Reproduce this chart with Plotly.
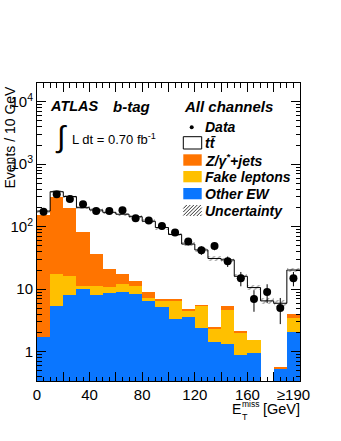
import plotly.graph_objects as go

# ---------------- data ----------------
bin_lo = list(range(0, 200, 10))          # bin lower edges (GeV)
bin_edges = list(range(0, 210, 10))
bin_ctr = [b + 5 for b in bin_lo]
data = [173, 330, 277, 229, 178, 178, 183, 136, 126, 103, 81, 58, 42, 49, 28, 15, 7, 9, 5, 15]
ttbar = [21, 65, 103, 118, 149, 149, 141, 131, 113, 90, 68, 48, 37, 28.5, 24, 14, 9.1, 6.5, 5.4, 16.3]
zjets = [155, 281, 185, 72, 25, 10.2, 5.0, 2.25, 1.97, 0.5, 0.5, 0.29, 0.06, 0.18, 0.79, 0.06, 0, 0, 0.02, 0.47]
fake = [0, 11.9, 8.3, 1.5, 3.0, 1.9, 3.4, 2.87, 0.6, 1.22, 3.13, 0.93, 3.07, 0.92, 3.32, 1.14, 0.58, 0, 0, 1.46]
other_ew = [1.70, 5.44, 8.08, 9.96, 8.17, 8.79, 8.9, 8.38, 6.55, 5.25, 3.34, 3.55, 2.37, 1.41, 1.33, 0.89, 0.94, 0, 0.535, 2.04]
unc_rel = [0.06, 0.06, 0.06, 0.06, 0.06, 0.06, 0.06, 0.06, 0.07, 0.07, 0.07, 0.08, 0.08, 0.08, 0.09, 0.10, 0.10, 0.11, 0.12, 0.06]
xtick_vals = [0, 40, 80, 120, 160, 195]
xtick_text = ["0", "40", "80", "120", "160", "≥190"]
ytick_vals = [1, 10, 100, 1000, 10000]
ytick_text = ["1", "10", "10<sup>2</sup>", "10<sup>3</sup>", "10<sup>4</sup>"]

# ---------------- derived ----------------
base_fake = other_ew
base_z = [a + b for a, b in zip(other_ew, fake)]
total = [a + b + c for a, b, c in zip(base_z, zjets, ttbar)]
unc_lo = [t * (1 - u) for t, u in zip(total, unc_rel)]
unc_h = [2 * t * u for t, u in zip(total, unc_rel)]
data_err = [d ** 0.5 for d in data]

C_Z = "#FF7400"
C_FAKE = "#FFC000"
C_EW = "#0A76FF"
FONT = "Liberation Sans, Arial, Helvetica, sans-serif"

fig = go.Figure()
fig.add_trace(go.Bar(x=bin_ctr, y=other_ew, width=10, marker=dict(color=C_EW, line=dict(width=0)),
                     name="Other EW", showlegend=False))
fig.add_trace(go.Bar(x=bin_ctr, y=fake, base=base_fake, width=10, marker=dict(color=C_FAKE, line=dict(width=0)),
                     name="Fake leptons", showlegend=False))
fig.add_trace(go.Bar(x=bin_ctr, y=zjets, base=base_z, width=10, marker=dict(color=C_Z, line=dict(width=0)),
                     name="Z/γ*+jets", showlegend=False))
fig.add_trace(go.Bar(x=bin_ctr, y=unc_h, base=unc_lo, width=10,
                     marker=dict(color="rgba(0,0,0,0)", line=dict(width=0),
                                 pattern=dict(shape="/", fgcolor="#333333", bgcolor="rgba(0,0,0,0)",
                                              size=4, solidity=0.3)),
                     name="Uncertainty", showlegend=False))
# total MC step line
fig.add_trace(go.Scatter(x=bin_edges, y=total + [total[-1]], mode="lines", line=dict(shape="hv", color="black", width=1),
                         xaxis="x2", yaxis="y", showlegend=False, name="tt̄"))
# data
fig.add_trace(go.Scatter(x=bin_ctr, y=data, mode="markers", xaxis="x2", yaxis="y",
                         marker=dict(color="black", size=8),
                         error_y=dict(type="data", array=data_err, color="black", thickness=1, width=0),
                         showlegend=False, name="Data"))

# ---------------- layout helpers ----------------
L, R, T, B = 37, 41, 83, 60
W, H = 341, 441
PW, PH = W - L - R, H - T - B


def px(x):
    return (x - L) / PW


def py(y):
    return (H - B - y) / PH


yr_lo = (351.7 - (H - B)) / 62.5
yr_hi = yr_lo + PH / 62.5

minor_y = []
for d in [0.1, 1, 10, 100, 1000, 10000]:
    for m in range(2, 10):
        minor_y.append(d * m)

fig.update_layout(
    width=W, height=H, margin=dict(l=L, r=R, t=T, b=B, autoexpand=False),
    paper_bgcolor="white", plot_bgcolor="white",
    barmode="overlay", bargap=0,
    font=dict(family=FONT, color="black"),
    xaxis=dict(range=[0, 200], tickvals=xtick_vals, ticktext=xtick_text, ticks="", automargin=False,
               showline=True, linecolor="black", linewidth=1, mirror=True, showgrid=False, zeroline=False,
               tickfont=dict(size=15, family=FONT)),
    xaxis2=dict(range=[0, 200], overlaying="x", anchor="y", side="bottom", showticklabels=False, automargin=False,
                ticks="inside", tick0=0, dtick=20, ticklen=9, tickcolor="black", tickwidth=1,
                minor=dict(ticks="inside", dtick=5, ticklen=4.5, tickcolor="black", tickwidth=1),
                showline=False, mirror="ticks", showgrid=False, zeroline=False),
    yaxis=dict(type="log", range=[yr_lo, yr_hi], tickvals=ytick_vals, ticktext=ytick_text, automargin=False,
               ticks="inside", ticklen=9, tickcolor="black", tickwidth=1,
               minor=dict(ticks="inside", tickvals=minor_y, ticklen=4.5, tickcolor="black", tickwidth=1),
               showline=True, linecolor="black", linewidth=1, mirror="ticks", showgrid=False, zeroline=False,
               tickfont=dict(size=15, family=FONT)),
)

ann = []


def text(x, y, s, size, xanchor="left", yanchor="middle", angle=0):
    ann.append(dict(x=px(x), y=py(y), xref="paper", yref="paper", text=s, showarrow=False,
                    xanchor=xanchor, yanchor=yanchor, textangle=angle, borderpad=0,
                    font=dict(size=size, family=FONT, color="black")))


# header texts
text(49, 106.5, "<b><i>ATLAS</i></b>", 14.5)
text(112, 106.5, "<b><i>b-tag</i></b>", 15)
text(182.5, 106.5, "<b><i>All channels</i></b>", 15)
text(54, 137, "∫", 30)
text(71, 139, "L dt = 0.70 fb<sup>-1</sup>", 13)

# legend
leg_x0, leg_x1 = 183.3, 201.7
leg_tx = 203.5
shapes = []
shapes.append(dict(type="circle", xref="paper", yref="paper", x0=px(189.7), x1=px(193.7), y0=py(129.3), y1=py(125.3),
                   fillcolor="black", line=dict(width=0)))
text(leg_tx, 127.3, "<b><i>Data</i></b>", 14)
boxes = [(136.7, 149, "white", "black", "<b><i>tt̄</i></b>"),
         (154.3, 165.7, C_Z, None, "<b><i>Z/γ<sup>*</sup>+jets</i></b>"),
         (171, 182.3, C_FAKE, None, "<b><i>Fake leptons</i></b>"),
         (188, 199.3, C_EW, None, "<b><i>Other EW</i></b>"),
         (205, 216, None, None, "<b><i>Uncertainty</i></b>")]
for y0, y1, fc, lc, label in boxes:
    if fc is not None:
        shapes.append(dict(type="rect", xref="paper", yref="paper", x0=px(leg_x0), x1=px(leg_x1),
                           y0=py(y1), y1=py(y0), fillcolor=fc,
                           line=dict(width=1 if lc else 0, color=lc or fc)))
    text(leg_tx, (y0 + y1) / 2 + 0.3, label, 14)

# hatch box for uncertainty legend
hy0, hy1 = 205, 216
c = leg_x0 - (hy1 - hy0)
while c < leg_x1:
    xa = max(leg_x0, c)
    xb = min(leg_x1, c + (hy1 - hy0))
    if xb > xa:
        shapes.append(dict(type="line", xref="paper", yref="paper", x0=px(xa), y0=py(hy1 - (xa - c)),
                           x1=px(xb), y1=py(hy1 - (xb - c)), line=dict(color="#333333", width=1)))
    c += 3.5

# axis titles
ann.append(dict(x=px(9), y=py(85), xref="paper", yref="paper", text="Events / 10 GeV", showarrow=False,
                xanchor="center", yanchor="top", textangle=-90, borderpad=0,
                font=dict(size=14, family=FONT, color="black")))
text(230.5, 409.5, "E", 14)
text(241, 417, "T", 9)
text(241, 403.5, "miss", 8.5)
text(300.5, 409.5, "[GeV]", 14.5, xanchor="right")

fig.update_layout(annotations=ann, shapes=shapes)
fig.write_html("out.html", config={"displayModeBar": False},
               post_script="document.body.style.margin='0';document.body.style.overflow='hidden';")
